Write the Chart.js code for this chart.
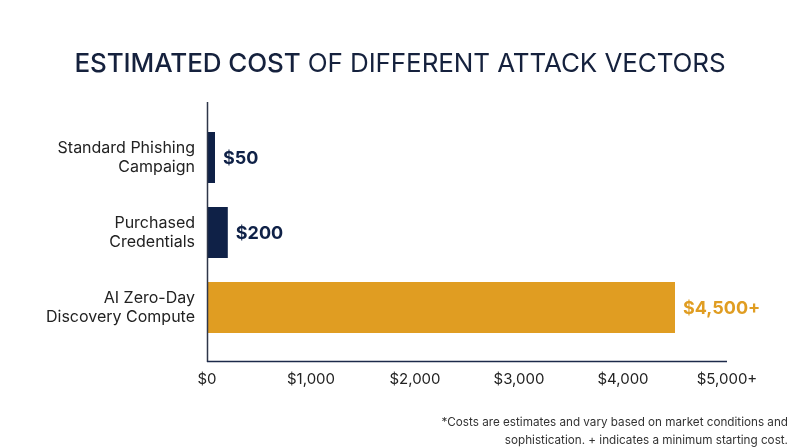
<!DOCTYPE html>
<html>
<head>
<meta charset="utf-8">
<script src="https://cdn.jsdelivr.net/npm/chart.js@4.4.1/dist/chart.umd.min.js"></script>
<style>
  html, body { margin:0; padding:0; background:#fff; }
  #wrap { position:relative; width:800px; height:447px; }
  #title { position:absolute; left:0; top:47px; width:800px; text-align:center;
    font-family:Inter, "Noto Sans", sans-serif; font-size:26px; color:#15213d; letter-spacing:-0.1px; white-space:nowrap; }
  #title b { font-weight:500; }
  #title span { font-weight:400; }
  #note { position:absolute; right:12px; top:413px; text-align:right;
    font-family:Inter, "Noto Sans", sans-serif; font-size:11.7px; line-height:18px; color:#333; }
  canvas { position:absolute; left:0; top:0; }
</style>
</head>
<body>
<div id="wrap">
  <canvas id="c" width="800" height="447"></canvas>
  <div id="title"><b>ESTIMATED COST</b> <span>OF DIFFERENT ATTACK VECTORS</span></div>
  <div id="note">*Costs are estimates and vary based on market conditions and<br>sophistication. + indicates a minimum starting cost.</div>
</div>
<script>
const categories = [
  ['Standard Phishing', 'Campaign'],
  ['Purchased', 'Credentials'],
  ['AI Zero-Day', 'Discovery Compute']
];
const costs = [50, 200, 4500];
const valueLabels = ['$50', '$200', '$4,500+'];
const barColors = ['#0f2147', '#0f2147', '#e09d22'];
const labelColors = ['#0f2147', '#0f2147', '#e09d22'];
const xTickValues = [0, 1000, 2000, 3000, 4000, 5000];
const xTickLabels = ['$0', '$1,000', '$2,000', '$3,000', '$4,000', '$5,000+'];

const FONT = 'Inter, "Noto Sans", sans-serif';

const valueLabelPlugin = {
  id: 'valueLabels',
  afterDatasetsDraw(chart) {
    const ctx = chart.ctx;
    const meta = chart.getDatasetMeta(0);
    ctx.save();
    ctx.font = '700 18px ' + FONT;
    ctx.textBaseline = 'middle';
    ctx.textAlign = 'left';
    meta.data.forEach((bar, i) => {
      ctx.fillStyle = labelColors[i];
      ctx.fillText(valueLabels[i], bar.x + 8, bar.y + 1);
    });
    ctx.restore();
  }
};

const axisLinePlugin = {
  id: 'axisLines',
  afterDraw(chart) {
    const ctx = chart.ctx;
    const a = chart.chartArea;
    const x0 = chart.scales.x.getPixelForValue(0);
    ctx.save();
    ctx.strokeStyle = '#2e3649';
    ctx.lineWidth = 1.5;
    ctx.beginPath();
    ctx.moveTo(x0 + 0.5, a.top - 18);
    ctx.lineTo(x0 + 0.5, a.bottom + 17);
    ctx.stroke();
    ctx.strokeStyle = '#1c2a4a';
    ctx.beginPath();
    ctx.moveTo(x0, a.bottom + 16.5);
    ctx.lineTo(a.right, a.bottom + 16.5);
    ctx.stroke();
    ctx.restore();
  }
};

new Chart(document.getElementById('c'), {
  type: 'bar',
  data: {
    labels: categories,
    datasets: [{
      data: costs,
      backgroundColor: barColors,
      borderWidth: 0,
      barPercentage: 0.68,
      categoryPercentage: 1.0,
      minBarLength: 8
    }]
  },
  options: {
    indexAxis: 'y',
    responsive: false,
    animation: false,
    devicePixelRatio: 1,
    layout: { padding: { top: 120, right: 73, bottom: 0, left: 0 } },
    plugins: { legend: { display: false }, tooltip: { enabled: false } },
    scales: {
      x: {
        type: 'linear',
        min: 0,
        max: 5000,
        afterFit(s) { s.height = 102; },
        afterBuildTicks(s) { s.ticks = xTickValues.map(v => ({ value: v })); },
        grid: { display: false, drawTicks: false },
        border: { display: false },
        ticks: {
          padding: 25,
          color: '#222',
          font: { family: FONT, size: 15 },
          maxRotation: 0,
          autoSkip: false,
          callback: (v, i) => xTickLabels[i]
        }
      },
      y: {
        afterFit(s) { s.width = 207; },
        grid: { display: false, drawTicks: false },
        border: { display: false },
        ticks: {
          padding: 12,
          color: '#222',
          font: { family: FONT, size: 16, lineHeight: 1.2 }
        }
      }
    }
  },
  plugins: [valueLabelPlugin, axisLinePlugin]
});
</script>
</body>
</html>
